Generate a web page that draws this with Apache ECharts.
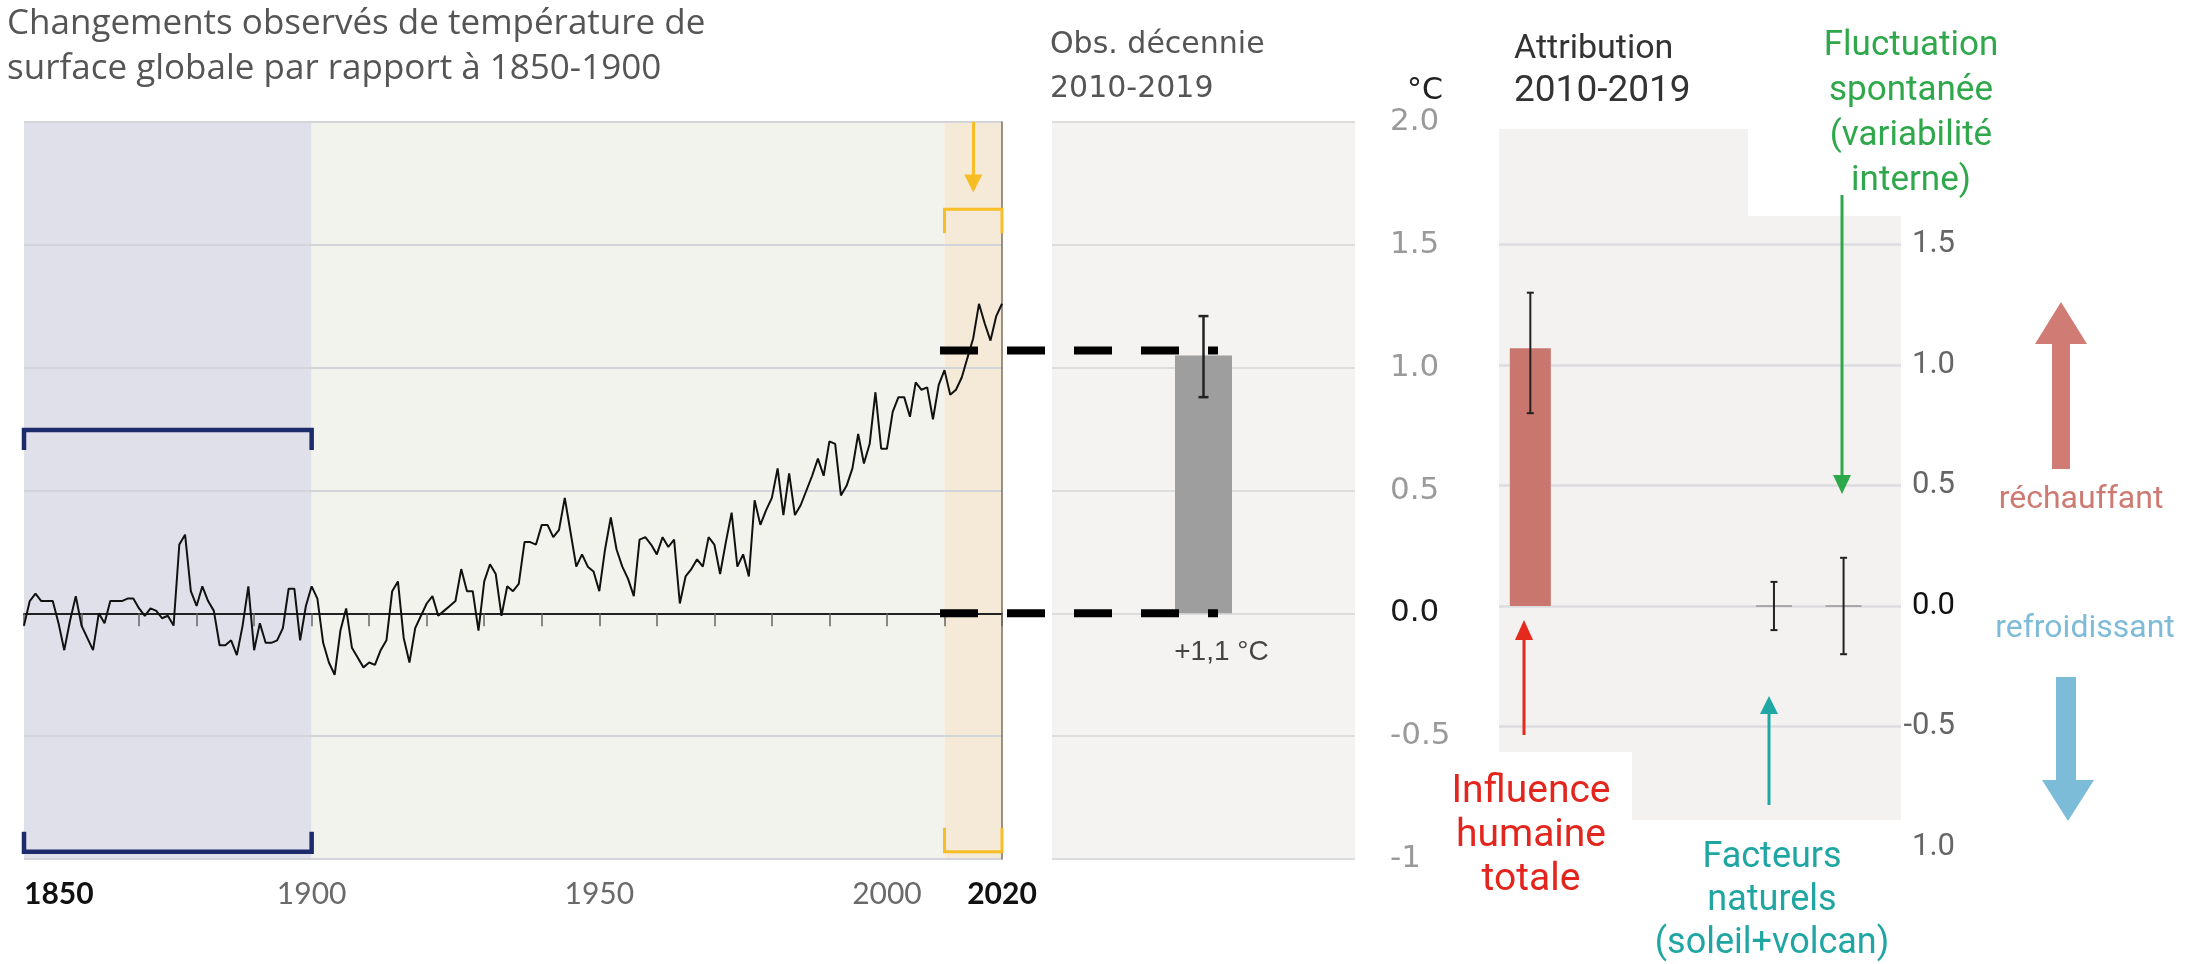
<!DOCTYPE html>
<html>
<head>
<meta charset="utf-8">
<title>Changements observés de température</title>
<script src="https://cdn.jsdelivr.net/npm/echarts@6/dist/echarts.min.js"></script>
<style>
html, body { margin: 0; padding: 0; background: #fff; }
#chart { width: 2201px; height: 964px; }
</style>
</head>
<body>
<div id="chart"></div>
<script>
// années 1850-2020
const years = [];
for (let y = 1850; y <= 2020; y++) years.push(y);

// anomalie annuelle (°C, par rapport à 1850-1900)
const gmst = [
  -0.05, 0.05, 0.08, 0.05, 0.05, 0.05, -0.04, -0.15, -0.03, 0.07,
  -0.05, -0.10, -0.15, 0.00, -0.04, 0.05, 0.05, 0.05, 0.06, 0.06,
  0.02, -0.01, 0.02, 0.01, -0.02, -0.01, -0.05, 0.28, 0.32, 0.09,
  0.03, 0.11, 0.05, 0.01, -0.13, -0.13, -0.11, -0.17, -0.05, 0.11,
  -0.15, -0.04, -0.12, -0.12, -0.11, -0.06, 0.10, 0.10, -0.11, 0.03,
  0.11, 0.06, -0.12, -0.20, -0.25, -0.07, 0.02, -0.14, -0.18, -0.22,
  -0.20, -0.21, -0.15, -0.11, 0.09, 0.13, -0.10, -0.20, -0.06, -0.01,
  0.04, 0.07, -0.01, 0.01, 0.03, 0.05, 0.18, 0.09, 0.09, -0.07,
  0.13, 0.20, 0.16, -0.01, 0.11, 0.09, 0.12, 0.29, 0.29, 0.28,
  0.36, 0.36, 0.31, 0.34, 0.47, 0.33, 0.19, 0.24, 0.19, 0.17,
  0.09, 0.26, 0.39, 0.26, 0.19, 0.14, 0.07, 0.30, 0.31, 0.28,
  0.24, 0.31, 0.27, 0.30, 0.04, 0.15, 0.18, 0.22, 0.19, 0.31,
  0.28, 0.16, 0.29, 0.41, 0.19, 0.24, 0.15, 0.46, 0.36, 0.42,
  0.47, 0.59, 0.40, 0.57, 0.40, 0.44, 0.50, 0.56, 0.63, 0.56,
  0.70, 0.69, 0.48, 0.52, 0.59, 0.73, 0.61, 0.69, 0.90, 0.67,
  0.67, 0.82, 0.88, 0.88, 0.80, 0.94, 0.91, 0.92, 0.79, 0.93,
  0.99, 0.89, 0.91, 0.96, 1.04, 1.12, 1.26, 1.18, 1.11, 1.21,
  1.26
];

const yearLabels = [1850, 1900, 1950, 2000, 2020];
const boldYears = [1850, 2020];
const basePeriod = [1850, 1900];
const recentPeriod = [2010, 2020];
const arrowYear = 2015;

// décennie observée
const obsDecade = ['2010-2019'];
const obsMean = [1.05];
const obsLow = [0.88];
const obsHigh = [1.21];
const obsLabel = '+1,1 °C';
const dashLevels = [1.07, 0];
const midTickLabels = ['-1', '-0.5', '0.0', '0.5', '1.0', '1.5', '2.0'];

// attribution 2010-2019
const attrNames = ['Influence humaine totale', 'Facteurs naturels', 'Variabilité interne'];
const attrCol = [0, 7, 9];
const attrMid = [1.07, 0, 0];
const attrLow = [0.8, -0.1, -0.2];
const attrHigh = [1.3, 0.1, 0.2];
const attrTickLabels = ['1.0', '-0.5', '0.0', '0.5', '1.0', '1.5', ''];

const chart = echarts.init(document.getElementById('chart'));

function bracket(color, width, len) {
  return function (params, api) {
    const a = api.coord([api.value(0), api.value(2)]);
    const b = api.coord([api.value(1), api.value(2)]);
    const d = api.value(3) * len;
    return {
      type: 'polyline',
      shape: { points: [[a[0], a[1] + d], a, b, [b[0], b[1] + d]] },
      style: { stroke: color, lineWidth: width, fill: null, lineJoin: 'miter' }
    };
  };
}

function errorBar(cap, lw, markerW) {
  return function (params, api) {
    const x = api.value(0);
    const lo = api.coord([x, api.value(1)]);
    const hi = api.coord([x, api.value(2)]);
    const kids = [];
    if (markerW && api.value(3) === 0) {
      const m = api.coord([x, api.value(3)]);
      kids.push({ type: 'line', shape: { x1: m[0] - markerW / 2, y1: m[1], x2: m[0] + markerW / 2, y2: m[1] },
        style: { stroke: '#a9a9a9', lineWidth: 2 } });
    }
    const st = { stroke: '#222', lineWidth: lw };
    kids.push({ type: 'line', shape: { x1: lo[0], y1: lo[1], x2: hi[0], y2: hi[1] }, style: st });
    kids.push({ type: 'line', shape: { x1: lo[0] - cap / 2, y1: lo[1], x2: lo[0] + cap / 2, y2: lo[1] }, style: st });
    kids.push({ type: 'line', shape: { x1: hi[0] - cap / 2, y1: hi[1], x2: hi[0] + cap / 2, y2: hi[1] }, style: st });
    return { type: 'group', children: kids };
  };
}

function txt(text, x, y, size, family, color, opts) {
  return {
    type: 'text', x: x, y: y, z: 100, silent: true,
    style: Object.assign({ text: text, fontSize: size, fontFamily: family, fill: color,
      align: 'left', verticalAlign: 'top' }, opts || {})
  };
}

const bg = '#f3f2f0';
const option = {
  animation: false,
  backgroundColor: '#fff',
  grid: [
    { left: 24, top: 122, width: 978, height: 737 },
    { left: 1052, top: 122, width: 303, height: 737, show: true, backgroundColor: '#f4f3f1', borderWidth: 0 },
    { left: 1499, top: 124, width: 402, height: 723 },
    { left: 940, top: 122, width: 278, height: 737 }
  ],
  xAxis: [
    {
      gridIndex: 0, type: 'value', min: 1850, max: 2020, interval: 10, z: 2,
      axisLine: { lineStyle: { color: '#222', width: 2 } },
      axisTick: { length: 13, lineStyle: { color: '#666', width: 1.5 } },
      splitLine: { show: false },
      axisLabel: {
        margin: 20, fontFamily: 'Lato', fontSize: 30, color: '#6a6a6a',
        alignMinLabel: 'left',
        formatter: function (v) {
          if (yearLabels.indexOf(v) < 0) return '';
          return boldYears.indexOf(v) >= 0 ? '{b|' + v + '}' : String(v);
        },
        rich: { b: { fontFamily: 'Lato', fontSize: 30, fontWeight: 'bold', color: '#111' } }
      }
    },
    {
      gridIndex: 1, type: 'category', data: obsDecade,
      axisLine: { show: false },
      axisTick: { show: true, inside: true, length: 9, alignWithLabel: true, lineStyle: { color: '#d0d0d0', width: 3 } },
      axisLabel: { show: false }
    },
    { gridIndex: 2, type: 'value', min: -0.9, max: 10.65, show: false },
    { gridIndex: 3, type: 'value', min: 0, max: 1, show: false }
  ],
  yAxis: [
    {
      gridIndex: 0, type: 'value', min: -1, max: 2, interval: 0.5, position: 'right', z: 2,
      axisLine: { show: true, lineStyle: { color: '#7a6c5c', width: 1.5 } },
      axisTick: { show: false }, axisLabel: { show: false },
      splitLine: { show: true, lineStyle: { width: 2,
        color: ['#d3d4da', '#d3d4da', '#8a8a8a', '#d3d4da', '#d3d4da', '#d3d4da', '#d3d4da'] } }
    },
    {
      gridIndex: 1, type: 'value', min: -1, max: 2, interval: 0.5, position: 'right',
      name: '°C', nameLocation: 'end', nameGap: 16,
      nameTextStyle: { fontFamily: 'DejaVu Sans', fontSize: 30, color: '#222', padding: [0, 0, 0, 140] },
      axisLine: { show: false }, axisTick: { show: false },
      axisLabel: {
        align: 'left', margin: 35, fontFamily: 'DejaVu Sans', fontSize: 31,
        formatter: function (v, i) { return midTickLabels[i]; },
        color: function (v) { return Number(v) === 0 ? '#1a1a1a' : '#9a9a9a'; }
      },
      splitLine: { lineStyle: { color: '#dcdcdc', width: 2 } }
    },
    {
      gridIndex: 2, type: 'value', min: -1, max: 2, interval: 0.5, position: 'right',
      axisLine: { show: false }, axisTick: { show: false },
      axisLabel: {
        align: 'right', margin: 54, fontFamily: '"Liberation Sans Narrow", Roboto', fontSize: 31,
        formatter: function (v, i) { return attrTickLabels[i]; },
        color: function (v) { return Number(v) === 0 ? '#111' : '#666'; }
      },
      splitLine: { lineStyle: { width: 2.5,
        color: ['transparent', '#dcdce0', '#dcdce0', '#dcdce0', '#dcdce0', '#dcdce0', 'transparent'] } }
    },
    { gridIndex: 3, type: 'value', min: -1, max: 2, show: false }
  ],
  series: [
    {
      name: 'GMST', type: 'line', xAxisIndex: 0, yAxisIndex: 0, z: 3,
      data: years.map(function (y, i) { return [y, gmst[i]]; }),
      symbol: 'none', lineStyle: { color: '#111', width: 2 },
      markArea: {
        silent: true,
        data: [
          [{ xAxis: basePeriod[0], itemStyle: { color: '#e0e0ea' } }, { xAxis: basePeriod[1] }],
          [{ xAxis: basePeriod[1], itemStyle: { color: '#f3f3ee' } }, { xAxis: recentPeriod[0] }],
          [{ xAxis: recentPeriod[0], itemStyle: { color: '#f5e9d8' } }, { xAxis: recentPeriod[1] }]
        ]
      },
      markLine: {
        silent: true, symbol: ['none', 'triangle'], symbolSize: 18,
        label: { show: false },
        lineStyle: { color: '#f7bd25', width: 3, type: 'solid' },
        data: [[{ coord: [arrowYear, 2] }, { coord: [arrowYear, 1.75] }]]
      }
    },
    {
      name: 'base', type: 'custom', xAxisIndex: 0, yAxisIndex: 0, z: 4,
      renderItem: bracket('#1e2b6b', 4.5, 20),
      data: [[basePeriod[0], basePeriod[1], 0.746, 1], [basePeriod[0], basePeriod[1], -0.97, -1]]
    },
    {
      name: 'recent', type: 'custom', xAxisIndex: 0, yAxisIndex: 0, z: 4,
      renderItem: bracket('#f7be25', 3, 24),
      data: [[recentPeriod[0], recentPeriod[1], 1.645, 1], [recentPeriod[0], recentPeriod[1], -0.97, -1]]
    },
    {
      name: 'obs', type: 'bar', xAxisIndex: 1, yAxisIndex: 1, barWidth: 57,
      data: obsMean, itemStyle: { color: '#9e9e9e' },
      label: {
        show: true, position: 'bottom', distance: 25, offset: [18, 0],
        formatter: function () { return obsLabel; },
        fontFamily: 'Liberation Sans', fontSize: 28, color: '#444'
      }
    },
    {
      name: 'obsErr', type: 'custom', xAxisIndex: 1, yAxisIndex: 1, z: 5,
      renderItem: errorBar(10, 2.5, 0),
      data: obsMean.map(function (m, i) { return [i, obsLow[i], obsHigh[i], m]; })
    },
    {
      name: 'attribution', type: 'bar', xAxisIndex: 2, yAxisIndex: 2, barWidth: 41,
      data: attrCol.map(function (c, i) { return [c, attrMid[i]]; }),
      itemStyle: { color: '#c9766e' }
    },
    {
      name: 'attrErr', type: 'custom', xAxisIndex: 2, yAxisIndex: 2, z: 5,
      renderItem: errorBar(7, 2, 36),
      data: attrCol.map(function (c, i) { return [c, attrLow[i], attrHigh[i], attrMid[i]]; })
    }
  ].concat(dashLevels.map(function (v) {
    return {
      type: 'line', xAxisIndex: 3, yAxisIndex: 3, z: 10, symbol: 'none',
      data: [[0, v], [1, v]],
      lineStyle: { color: '#000', width: 8, type: [38, 29], cap: 'butt' }
    };
  })),
  graphic: [
    // fond du panneau d'attribution
    { type: 'rect', z: -1, silent: true, shape: { x: 1499, y: 129, width: 249, height: 623 }, style: { fill: bg } },
    { type: 'rect', z: -1, silent: true, shape: { x: 1748, y: 216, width: 153, height: 604 }, style: { fill: bg } },
    { type: 'rect', z: -1, silent: true, shape: { x: 1632, y: 752, width: 116, height: 68 }, style: { fill: bg } },

    txt('Changements observés de température de\nsurface globale par rapport à 1850-1900', 7, 2, 35, '"Open Sans"', '#555', { lineHeight: 45 }),
    txt('Obs. décennie\n2010-2019', 1050, 23, 30, '"DejaVu Sans"', '#555', { lineHeight: 44 }),
    txt('Attribution', 1514, 49, 34, 'Roboto', '#333', { verticalAlign: 'middle' }),
    txt('2010-2019', 1514, 92, 37, 'Roboto', '#333', { verticalAlign: 'middle' }),
    txt('Fluctuation\nspontanée\n(variabilité\ninterne)', 1911, 24, 35, 'Roboto', '#2fa84b', { align: 'center', lineHeight: 45 }),
    txt(attrNames[0].replace(' humaine ', '\nhumaine\n'), 1531, 770, 39, 'Roboto', '#e3261d', { align: 'center', lineHeight: 44 }),
    txt('Facteurs\nnaturels\n(soleil+volcan)', 1772, 836, 36, 'Roboto', '#1fa6a3', { align: 'center', lineHeight: 43 }),
    txt('réchauffant', 2081, 500, 32, 'Roboto', '#cd7a72', { align: 'center', verticalAlign: 'middle' }),
    txt('refroidissant', 2085, 629, 32, 'Roboto', '#7dbbd8', { align: 'center', verticalAlign: 'middle' }),

    // flèches d'annotation
    { type: 'line', z: 100, silent: true, shape: { x1: 1524, y1: 735, x2: 1524, y2: 638 }, style: { stroke: '#e52a1d', lineWidth: 3 } },
    { type: 'polygon', z: 100, silent: true, shape: { points: [[1515, 640], [1533, 640], [1524, 620]] }, style: { fill: '#e52a1d' } },
    { type: 'line', z: 100, silent: true, shape: { x1: 1769, y1: 805, x2: 1769, y2: 712 }, style: { stroke: '#1ea7a5', lineWidth: 3 } },
    { type: 'polygon', z: 100, silent: true, shape: { points: [[1760, 714], [1778, 714], [1769, 696]] }, style: { fill: '#1ea7a5' } },
    { type: 'line', z: 100, silent: true, shape: { x1: 1842, y1: 195, x2: 1842, y2: 478 }, style: { stroke: '#2fa84b', lineWidth: 3 } },
    { type: 'polygon', z: 100, silent: true, shape: { points: [[1833, 475], [1851, 475], [1842, 494]] }, style: { fill: '#2fa84b' } },
    { type: 'polygon', z: 100, silent: true,
      shape: { points: [[2052, 469], [2070, 469], [2070, 344], [2087, 344], [2061, 302], [2035, 344], [2052, 344]] },
      style: { fill: '#d07b74' } },
    { type: 'polygon', z: 100, silent: true,
      shape: { points: [[2056, 677], [2076, 677], [2076, 780], [2094, 780], [2068, 821], [2042, 780], [2056, 780]] },
      style: { fill: '#7cbcd9' } }
  ]
};

chart.setOption(option);
</script>
</body>
</html>
